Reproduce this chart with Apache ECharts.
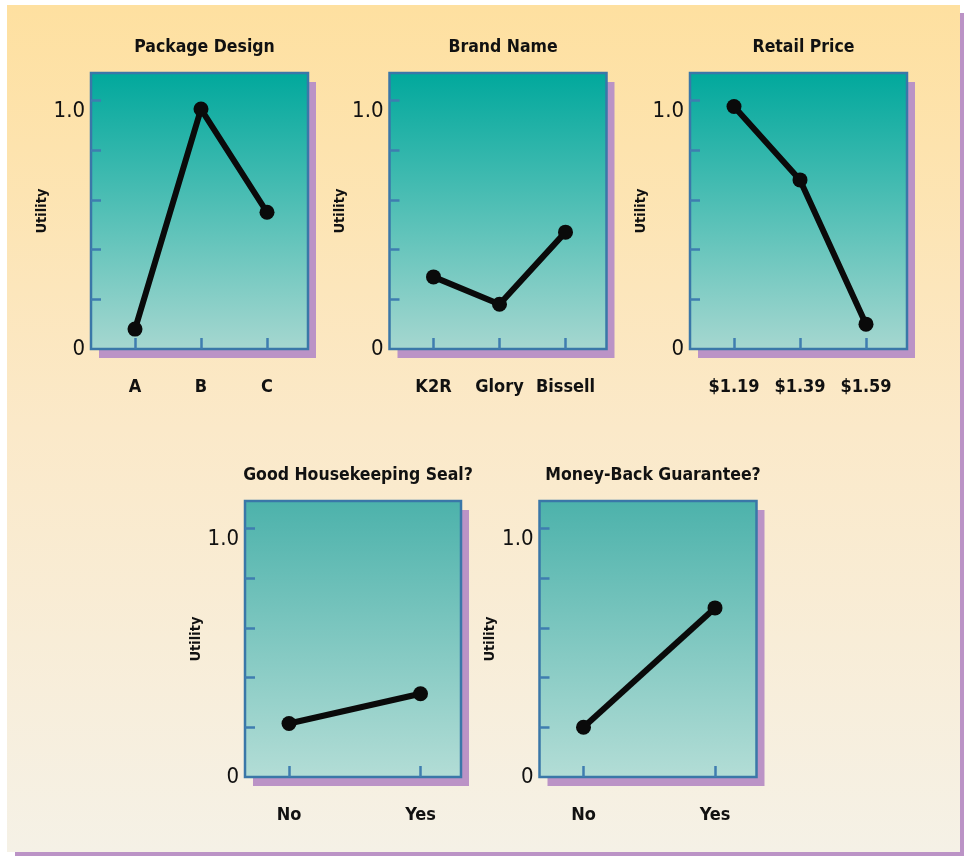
<!DOCTYPE html>
<html>
<head>
<meta charset="utf-8">
<script src="https://cdn.jsdelivr.net/npm/echarts@6/dist/echarts.min.js"></script>
<style>
  html, body { margin: 0; padding: 0; background: #ffffff; }
  #main { width: 964px; height: 856px; }
</style>
</head>
<body>
<div id="main"></div>
<script>
// data
var titles = ['Package Design', 'Brand Name', 'Retail Price', 'Good Housekeeping Seal?', 'Money-Back Guarantee?'];
var packageCats = ['A', 'B', 'C'];
var packageUtil = [0.08, 0.965, 0.55];
var brandCats = ['K2R', 'Glory', 'Bissell'];
var brandUtil = [0.29, 0.18, 0.47];
var priceCats = ['$1.19', '$1.39', '$1.59'];
var priceUtil = [0.975, 0.68, 0.10];
var sealCats = ['No', 'Yes'];
var sealUtil = [0.215, 0.335];
var moneyCats = ['No', 'Yes'];
var moneyUtil = [0.20, 0.68];
var yTickValues = [0.2, 0.4, 0.6, 0.8, 1.0];
var yLabelValues = [0, 1];

var FONT = '"DejaVu Sans Condensed", "DejaVu Sans", sans-serif';

// panel layout (px): left, top, width, height
var panels = [
    { cats: packageCats, vals: packageUtil, left: 91, top: 73, w: 217, h: 276, row: 0 },
    { cats: brandCats, vals: brandUtil, left: 389.5, top: 73, w: 217, h: 276, row: 0 },
    { cats: priceCats, vals: priceUtil, left: 690, top: 73, w: 217, h: 276, row: 0 },
    { cats: sealCats, vals: sealUtil, left: 245, top: 501, w: 216, h: 276, row: 1 },
    { cats: moneyCats, vals: moneyUtil, left: 539.5, top: 501, w: 217, h: 276, row: 1 }
];

var chart = echarts.init(document.getElementById('main'));

var grids = [], xAxes = [], yAxes = [], series = [], titleList = [];
var graphics = [
    // page shadow + page
    { type: 'rect', z: -20, shape: { x: 15, y: 13, width: 949, height: 843 }, style: { fill: '#bb93c6' } },
    {
        type: 'rect', z: -19, shape: { x: 7, y: 5, width: 953, height: 847 },
        style: {
            fill: new echarts.graphic.LinearGradient(0, 0, 0, 1, [
                { offset: 0, color: '#fee0a0' },
                { offset: 0.5, color: '#fbe9c9' },
                { offset: 1, color: '#f5f1e6' }
            ])
        }
    }
];

panels.forEach(function (p, i) {
    var n = p.cats.length;
    var step = (n === 3) ? 66 : 131.5;
    var xmin = -44 / step;
    var xmax = (p.w - 44) / step;
    var topCol = p.row === 0 ? '#00a89c' : '#4cb2ab';
    var botCol = p.row === 0 ? '#a6d7d0' : '#b3ddd6';

    // purple drop shadow behind each panel
    graphics.push({
        type: 'rect', z: -5,
        shape: { x: p.left + 8, y: p.top + 9, width: p.w, height: p.h },
        style: { fill: '#bb93c6' }
    });

    grids.push({
        left: p.left, top: p.top, width: p.w, height: p.h,
        show: true,
        backgroundColor: new echarts.graphic.LinearGradient(0, 0, 0, 1, [
            { offset: 0, color: topCol },
            { offset: 1, color: botCol }
        ]),
        borderColor: '#3a77a8',
        borderWidth: 2.5,
        containLabel: false
    });

    titleList.push({
        text: titles[i],
        left: p.left + p.w / 2,
        top: p.row === 0 ? 33 : 461,
        textAlign: 'center',
        textStyle: { fontFamily: FONT, fontWeight: 'bold condensed', fontSize: 17.5, color: '#111' }
    });

    xAxes.push({
        type: 'value',
        gridIndex: i,
        min: xmin,
        max: xmax,
        axisLine: { show: false, onZero: false },
        splitLine: { show: false },
        axisTick: {
            show: true, inside: true, length: 11,
            customValues: p.cats.map(function (c, k) { return k; }),
            lineStyle: { color: '#3f7db0', width: 2.5 }
        },
        axisLabel: {
            customValues: p.cats.map(function (c, k) { return k; }),
            margin: 29,
            fontFamily: FONT, fontWeight: 'bold condensed', fontSize: 18, color: '#111',
            formatter: function (v) { return p.cats[Math.round(v)]; }
        }
    });

    yAxes.push({
        type: 'value',
        gridIndex: i,
        min: 0,
        max: 1.11,
        name: 'Utility',
        nameLocation: 'middle',
        nameGap: 24,
        nameTextStyle: { fontFamily: FONT, fontWeight: 'bold condensed', fontSize: 14.5, color: '#111' },
        axisLine: { show: false, onZero: false },
        splitLine: { show: false },
        axisTick: {
            show: true, inside: true, length: 10,
            customValues: yTickValues,
            lineStyle: { color: '#3f7db0', width: 2.5 }
        },
        axisLabel: {
            customValues: yLabelValues,
            margin: 6,
            fontFamily: FONT, fontWeight: '500 condensed', fontSize: 22, color: '#111',
            formatter: function (v) { return v === 0 ? '0' : '{hi|1.0}'; },
            rich: {
                hi: { padding: [22, 0, 0, 0], fontFamily: FONT, fontWeight: '500 condensed', fontSize: 22, color: '#111' }
            }
        }
    });

    series.push({
        type: 'line',
        xAxisIndex: i,
        yAxisIndex: i,
        data: p.vals.map(function (v, k) { return [k, v]; }),
        symbol: 'circle',
        symbolSize: 15,
        lineStyle: { color: '#0a0a0a', width: 6 },
        itemStyle: { color: '#0a0a0a' },
        emphasis: { disabled: true },
        animation: false
    });
});

chart.setOption({
    animation: false,
    title: titleList,
    graphic: graphics,
    grid: grids,
    xAxis: xAxes,
    yAxis: yAxes,
    series: series
});
</script>
</body>
</html>
